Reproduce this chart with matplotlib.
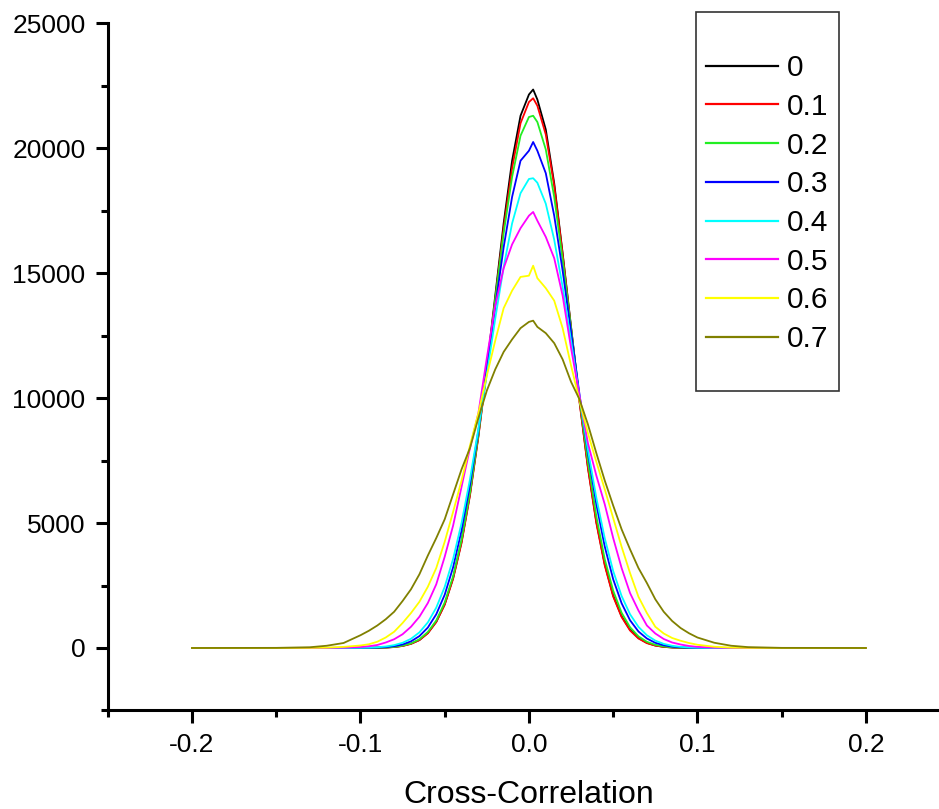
import matplotlib
matplotlib.use('Agg')
import matplotlib.pyplot as plt
from matplotlib.patches import Rectangle
from matplotlib.ticker import MultipleLocator

plt.rcParams['font.family'] = ['Liberation Sans', 'DejaVu Sans']
plt.rcParams['axes.unicode_minus'] = False

# Cross-correlation bins
x_corr = [-0.20, -0.15, -0.13, -0.12, -0.11,
          -0.10, -0.095, -0.09, -0.085, -0.08, -0.075, -0.07, -0.065, -0.06, -0.055,
          -0.05, -0.045, -0.04, -0.035, -0.03, -0.025, -0.02, -0.015, -0.01, -0.005,
          0.0, 0.0025,
          0.005, 0.01, 0.015, 0.02, 0.025, 0.03, 0.035, 0.04, 0.045, 0.05,
          0.055, 0.06, 0.065, 0.07, 0.075, 0.08, 0.085, 0.09, 0.095, 0.10,
          0.11, 0.12, 0.13, 0.15, 0.20]

counts_00 = [0, 0, 0, 0, 0,
             2, 4, 8, 18, 40, 85, 170, 320, 600, 1050,
             1750, 2800, 4250, 6150, 8500, 11200, 14100, 17000, 19500, 21300,
             22150, 22350,
             21950, 20750, 18600, 15800, 12850, 9900, 7250, 5050, 3350, 2100,
             1270, 730, 400, 205, 100, 47, 21, 9, 4, 1,
             0, 0, 0, 0, 0]
counts_01 = [0, 0, 0, 0, 0,
             2, 4, 8, 17, 38, 80, 165, 315, 590, 1040,
             1730, 2770, 4200, 6100, 8450, 11100, 13950, 16800, 19200, 21000,
             21850, 22000,
             21700, 20550, 18500, 15750, 12800, 9850, 7200, 5000, 3300, 2060,
             1240, 700, 380, 195, 95, 44, 20, 8, 3, 1,
             0, 0, 0, 0, 0]
counts_02 = [0, 0, 0, 0, 1,
             2, 4, 10, 21, 45, 95, 185, 350, 640, 1100,
             1820, 2870, 4330, 6220, 8550, 11150, 13950, 16600, 18850, 20500,
             21250, 21300,
             21050, 19950, 18050, 15550, 12800, 10000, 7450, 5270, 3550, 2290,
             1410, 830, 465, 248, 127, 62, 29, 13, 5, 2,
             1, 0, 0, 0, 0]
counts_03 = [0, 0, 0, 1, 2,
             4, 8, 17, 36, 73, 142, 265, 476, 818, 1350,
             2130, 3230, 4700, 6530, 8710, 11140, 13650, 16040, 18050, 19500,
             19900, 20250,
             19900, 19000, 17300, 15100, 12650, 10150, 7800, 5750, 4060, 2750,
             1790, 1110, 660, 380, 207, 109, 55, 26, 12, 5,
             2, 1, 0, 0, 0]
counts_04 = [0, 0, 1, 2, 4,
             8, 15, 30, 60, 114, 209, 368, 626, 1025, 1615,
             2444, 3565, 5000, 6750, 8770, 10950, 13180, 15250, 16990, 18200,
             18770, 18800,
             18620, 17780, 16340, 14450, 12290, 10070, 7930, 6010, 4390, 3080,
             2080, 1350, 846, 509, 295, 164, 88, 45, 23, 11,
             3, 1, 0, 0, 0]
counts_05 = [0, 0, 0, 5, 15,
             40, 70, 120, 220, 350, 550, 850, 1250, 1800, 2550,
             3650, 4900, 6450, 8000, 9400, 11600, 13700, 15200, 16150, 16800,
             17300, 17450,
             17100, 16450, 15600, 14100, 12000, 10100, 8200, 6900, 5750, 4400,
             3200, 2200, 1500, 900, 580, 360, 220, 140, 80, 45,
             15, 5, 0, 0, 0]
counts_06 = [0, 0, 5, 15, 45,
             100, 150, 250, 420, 650, 1000, 1400, 1850, 2450, 3200,
             4250, 5450, 6700, 8100, 9400, 10900, 12300, 13600, 14300, 14850,
             14900, 15300,
             14800, 14400, 13900, 12800, 11300, 9900, 8600, 7450, 6350, 5200,
             4050, 3000, 2050, 1400, 850, 580, 400, 290, 200, 130,
             50, 15, 5, 0, 0]
counts_07 = [0, 5, 30, 90, 200,
             510, 690, 900, 1150, 1450, 1880, 2350, 2950, 3700, 4400,
             5150, 6150, 7150, 8000, 9200, 10300, 11150, 11850, 12350, 12800,
             13050, 13100,
             12850, 12600, 12200, 11550, 10650, 9950, 8950, 7800, 6700, 5700,
             4750, 3950, 3200, 2600, 1950, 1450, 1080, 800, 590, 420,
             210, 90, 35, 5, 0]

labels = ['0', '0.1', '0.2', '0.3', '0.4', '0.5', '0.6', '0.7']
series = [counts_00, counts_01, counts_02, counts_03,
          counts_04, counts_05, counts_06, counts_07]
colors = ['#000000', '#ff0000', '#22ee22', '#0000ff',
          '#00ffff', '#ff00ff', '#ffff00', '#808000']

fig = plt.figure(figsize=(9.39, 8.09), dpi=100)
ax = fig.add_axes([0.1147, 0.1218, 0.8972, 0.8494])

for vals, lab, col in zip(series, labels, colors):
    ax.plot(x_corr, vals, color=col, linewidth=1.3, label=lab)

ax.set_xlim(-0.25, 0.25)
ax.set_ylim(-2500, 25000)
ax.xaxis.set_major_locator(MultipleLocator(0.1))
ax.xaxis.set_minor_locator(MultipleLocator(0.05))
ax.yaxis.set_major_locator(MultipleLocator(5000))
ax.yaxis.set_minor_locator(MultipleLocator(2500))
ax.xaxis.set_major_formatter(plt.FuncFormatter(lambda v, p: '%.1f' % v))

for side in ['top', 'right']:
    ax.spines[side].set_visible(False)
for side in ['left', 'bottom']:
    ax.spines[side].set_linewidth(2.2)

ax.tick_params(which='major', direction='out', length=9, width=2.2,
               labelsize=19, pad=7)
ax.tick_params(which='minor', direction='out', length=5, width=2.2)

ax.set_xlabel('Cross-Correlation', fontsize=23, labelpad=17)

leg = fig.legend(loc='upper left', bbox_to_anchor=(706 / 939, 1 - 54 / 809),
                 frameon=False, fontsize=21.5, handlelength=2.4,
                 handletextpad=0.3, labelspacing=0.36, borderpad=0,
                 borderaxespad=0)
for line in leg.get_lines():
    line.set_linewidth(1.6)

fig.patches.append(Rectangle((696 / 939, 1 - 391 / 809), 143 / 939, 379 / 809,
                             transform=fig.transFigure, fill=False,
                             edgecolor='#333333', linewidth=1.2))

fig.savefig('out.png', dpi=100)
